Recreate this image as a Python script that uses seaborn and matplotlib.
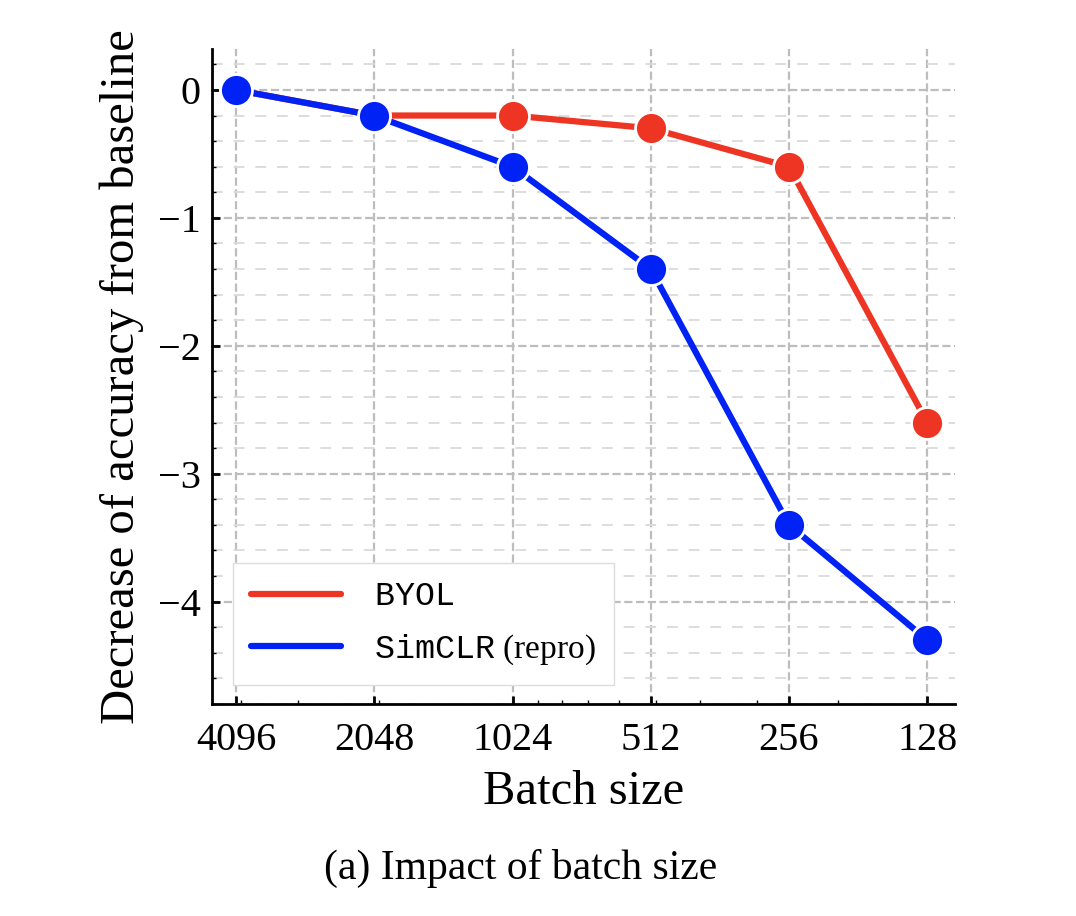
import numpy as np
import pandas as pd
import matplotlib
matplotlib.use("Agg")
import matplotlib.pyplot as plt
import matplotlib.ticker as mticker
import seaborn as sns

batch_sizes = [4096, 2048, 1024, 512, 256, 128]
byol_drop = [0.0, -0.2, -0.2, -0.3, -0.6, -2.6]
simclr_drop = [0.0, -0.2, -0.6, -1.4, -3.4, -4.3]
method_names = ["BYOL", "SimCLR"]
legend_labels = [r"$\mathtt{BYOL}$", r"$\mathtt{SimCLR}$ (repro)"]
x_tick_labels = ["4096", "2048", "1024", "512", "256", "128"]

df = pd.DataFrame({
    "batch": batch_sizes * 2,
    "drop": byol_drop + simclr_drop,
    "method": [method_names[0]] * 6 + [method_names[1]] * 6,
})

sns.set_style("ticks")
plt.rcParams["font.family"] = ["Liberation Serif", "DejaVu Serif"]
plt.rcParams["mathtext.fontset"] = "custom"
plt.rcParams["mathtext.tt"] = "Liberation Mono"
plt.rcParams["mathtext.rm"] = "Liberation Serif"
plt.rcParams["text.color"] = "black"
plt.rcParams["axes.labelcolor"] = "black"
plt.rcParams["xtick.color"] = "black"
plt.rcParams["ytick.color"] = "black"
plt.rcParams["axes.edgecolor"] = "black"

fig = plt.figure(figsize=(10.76, 9.16), dpi=100)
ax = fig.add_axes([212 / 1076, 1 - 704 / 916, (955 - 212) / 1076, (704 - 49) / 916])

palette = {"BYOL": "#ee3524", "SimCLR": "#0022f5"}
sns.lineplot(data=df, x="batch", y="drop", hue="method", palette=palette,
             marker="o", markersize=23, markeredgecolor="white", markeredgewidth=2,
             linewidth=4.5, ax=ax)

ax.set_xscale("log")
ax.set_xlim(4620, 111.4)
ax.set_xticks(batch_sizes)
ax.set_xticklabels(x_tick_labels)
ax.xaxis.set_minor_locator(mticker.LogLocator(base=10, subs=np.arange(2, 10)))
ax.xaxis.set_minor_formatter(mticker.NullFormatter())
ax.set_ylim(-4.8, 0.32)
ax.set_yticks([0, -1, -2, -3, -4])
ax.yaxis.set_minor_locator(mticker.MultipleLocator(0.2))

ax.grid(which="major", axis="both", linestyle="--", color="#bdbdbd", linewidth=1.6)
ax.grid(which="minor", axis="y", linestyle="--", color="#dadada", linewidth=1.3, dashes=(6, 6))
ax.set_axisbelow(True)

for side in ["top", "right"]:
    ax.spines[side].set_visible(False)
for side in ["left", "bottom"]:
    ax.spines[side].set_linewidth(2)
ax.tick_params(which="major", direction="in", length=6, width=2, labelsize=29, pad=8)
ax.tick_params(axis="x", which="major", pad=13)
ax.tick_params(which="minor", direction="in", length=3, width=1)

ax.set_xlabel("Batch size", fontsize=35, labelpad=8)
ax.set_ylabel("Decrease of accuracy from baseline", fontsize=35, labelpad=10)

handles, _ = ax.get_legend_handles_labels()
for h in handles:
    h.set_marker("")
ax.legend(handles, legend_labels, loc="lower left", fontsize=24, handlelength=2.7,
          fancybox=False, edgecolor="#dddddd", framealpha=1, borderpad=0.55,
          labelspacing=0.6, handletextpad=1.0, borderaxespad=0,
          bbox_to_anchor=(0.028, 0.029))

fig.text(521 / 1076, 1 - 868 / 916, "(a) Impact of batch size", ha="center",
         va="center", fontsize=30)

fig.savefig("out.png", dpi=100)
